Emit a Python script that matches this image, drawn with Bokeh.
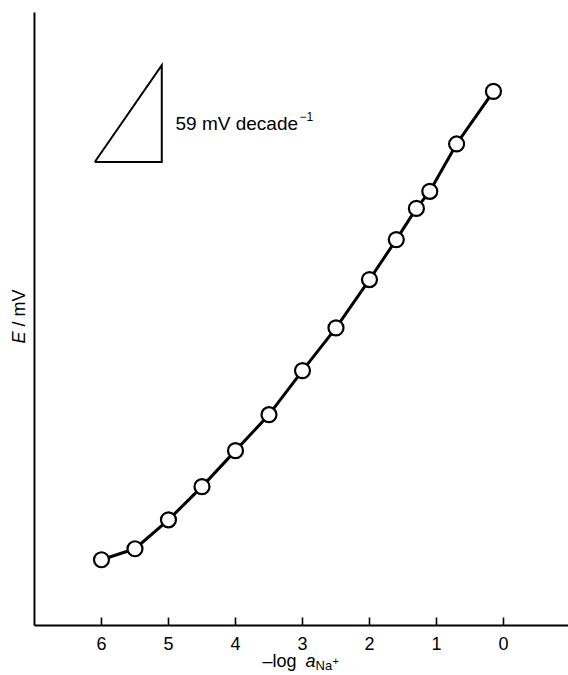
from bokeh.plotting import figure
from bokeh.models import Range1d, Label
from bokeh.core.properties import value
from bokeh.embed import file_html
from bokeh.resources import INLINE
import math

# data
neg_log_a = [6, 5.5, 5, 4.5, 4, 3.5, 3, 2.5, 2, 1.6, 1.3, 1.1, 0.7, 0.15]
E_mV = [40.0, 46.7, 64.3, 84.5, 106.4, 128.3, 155.1, 181.1, 210.5, 234.8, 253.8, 264.2, 293.0, 325.0]
x_ticks = [0, 1, 2, 3, 4, 5, 6]
x_tick_labels = ["0", "1", "2", "3", "4", "5", "6"]

# axis extents (data units)
x_axis_start = 7
y_axis_top = 373

# Nernstian slope triangle (one decade wide)
slope_mV = 59
tri_x0 = 6.1
tri_y0 = 282

FONT = "Liberation Sans"
PX_PER_UNIT_Y = 1.6434  # screen px per mV

p = figure(width=568, height=675, x_range=Range1d(7.507, -0.970), y_range=Range1d(-30.42, 380.3),
           output_backend="svg", toolbar_location=None,
           x_axis_location=None, y_axis_location=None,
           min_border=0, min_border_left=0, min_border_right=0, min_border_top=0, min_border_bottom=0)
p.grid.visible = False
p.outline_line_color = None
p.background_fill_color = "white"
p.border_fill_color = "white"

# axes drawn through the plot's scales
x_end = p.x_range.end
p.segment(x0=[x_axis_start], y0=[0], x1=[x_end], y1=[0], line_color="black", line_width=2)
p.segment(x0=[x_axis_start], y0=[0], x1=[x_axis_start], y1=[y_axis_top], line_color="black", line_width=2)
tick_len = 8 / PX_PER_UNIT_Y
p.segment(x0=x_ticks, y0=[0] * len(x_ticks), x1=x_ticks, y1=[tick_len] * len(x_ticks),
          line_color="black", line_width=1.6)
p.text(x=x_ticks, y=[0] * len(x_ticks), text=x_tick_labels, y_offset=18,
       text_font=value(FONT), text_font_size="18px", text_align="center",
       text_baseline="alphabetic", text_color="black")

# triangle
tx = [tri_x0, tri_x0 - 1, tri_x0 - 1, tri_x0]
ty = [tri_y0, tri_y0, tri_y0 + slope_mV, tri_y0]
p.line(tx, ty, line_color="black", line_width=2, line_join="miter")

p.line(neg_log_a, E_mV, line_color="black", line_width=3)
p.scatter(neg_log_a, E_mV, size=15, fill_color="white", line_color="black", line_width=2.2)


def lab(x, y, text, size="18px", style="normal", angle=0):
    p.add_layout(Label(x=x, y=y, x_units="screen", y_units="screen", text=text,
                       text_font=FONT, text_font_size=size, text_font_style=style,
                       text_baseline="alphabetic", text_align="left", angle=angle,
                       text_color="black"))

# slope annotation
lab(175, 552, "59 mV decade", size="19px")
lab(299, 559, "\u22121", size="12px")

# x axis label: -log a_Na+
lab(262, 15, "\u2013log")
lab(305, 15, "a", style="italic")
lab(315, 10, "Na", size="13px")
lab(332, 15, "+", size="11px")

# y axis label: E / mV
lab(18, 332, "E", style="italic", angle=math.pi / 2)
lab(18, 349, "/ mV", angle=math.pi / 2)

open("out.html", "w").write(file_html(p, INLINE))
